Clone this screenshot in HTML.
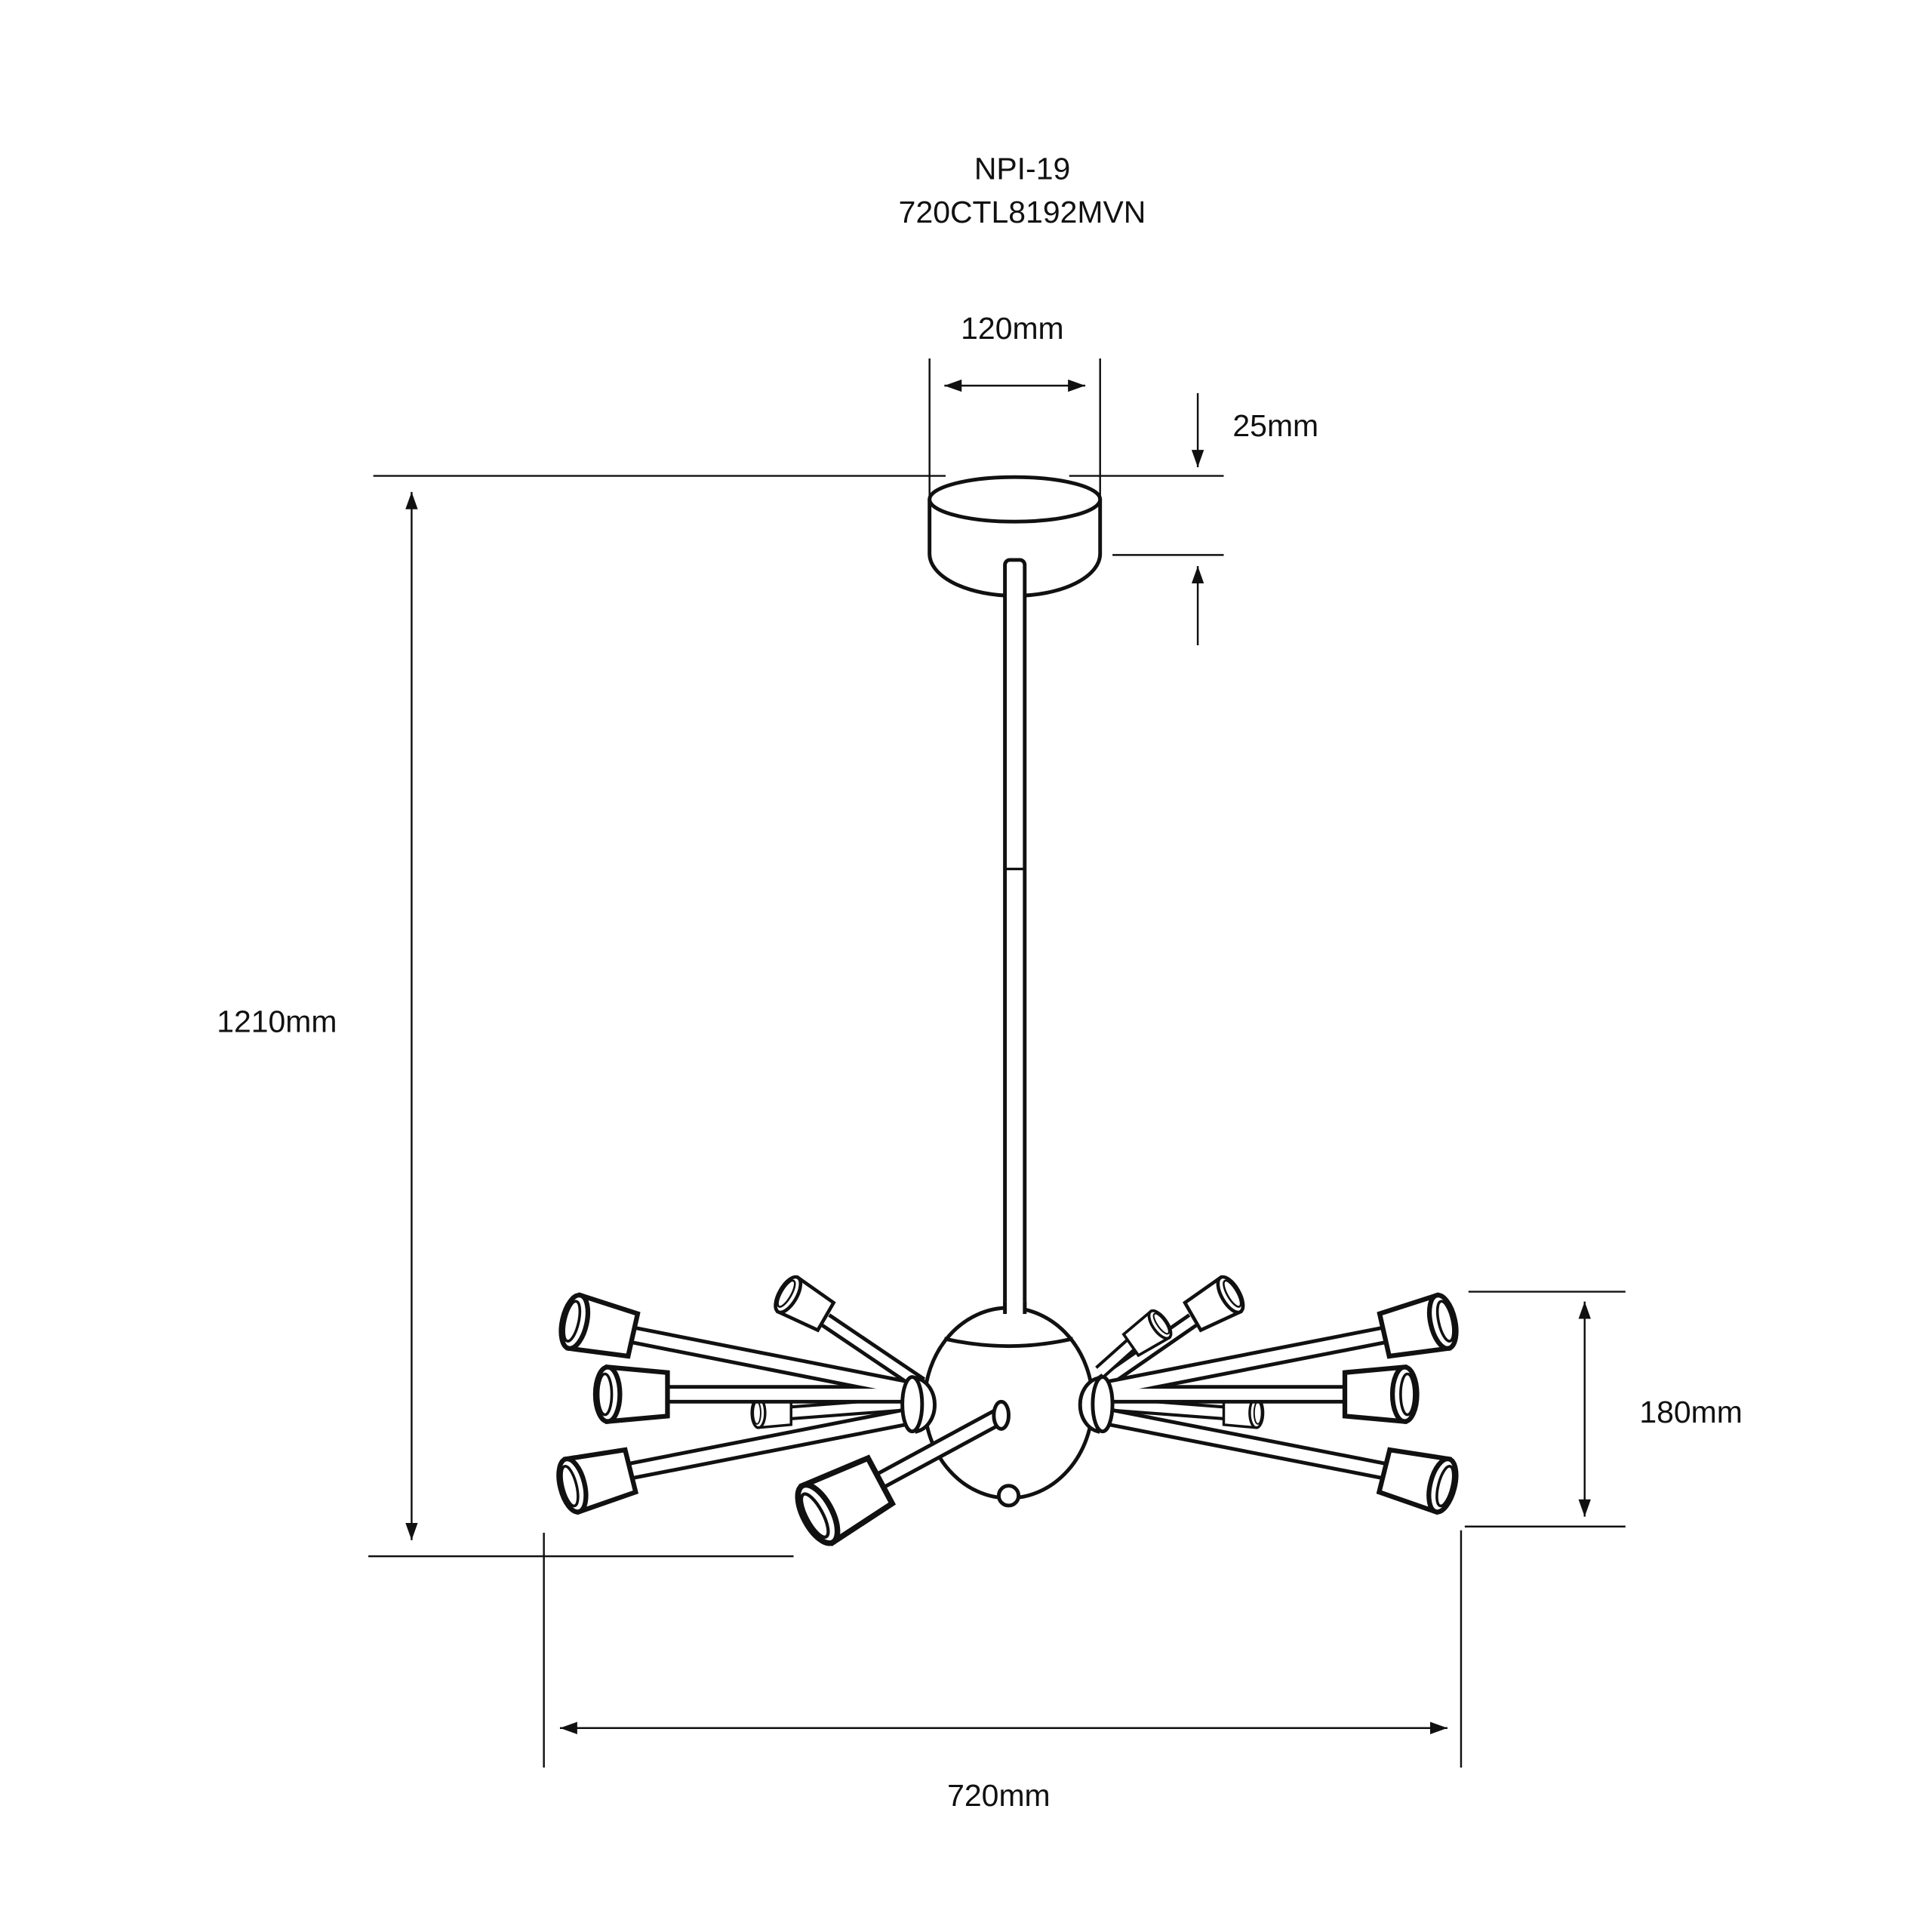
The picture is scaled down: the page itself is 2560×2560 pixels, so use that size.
<!DOCTYPE html>
<html><head><meta charset="utf-8"><style>
html,body{margin:0;padding:0;background:#fff;width:2560px;height:2560px;overflow:hidden}
svg{display:block}
text{font-family:"Liberation Sans",sans-serif;font-size:25px;fill:#111}
</style></head><body>
<svg width="2560" height="2560" viewBox="0 0 1563 1563" xmlns="http://www.w3.org/2000/svg">
<defs>
<marker id="a" viewBox="0 0 10 10" refX="10" refY="5" markerWidth="14" markerHeight="10" orient="auto-start-reverse" markerUnits="userSpaceOnUse" preserveAspectRatio="none"><path d="M0,0 L10,5 L0,10 z" fill="#111"/></marker>
<g id="cup" stroke="#111" stroke-width="3.5" fill="#fff">
<path d="M0,-16 L44,-20 L44,20 L0,16 Z"/>
<ellipse cx="44" cy="0" rx="9" ry="20"/>
<ellipse cx="46" cy="0" rx="5" ry="15" fill="none" stroke-width="2"/>
</g>
</defs>
<rect width="1563" height="1563" fill="#fff"/>
<text x="827" y="145" text-anchor="middle">NPI-19</text>
<text x="827" y="180" text-anchor="middle">720CTL8192MVN</text>

<g stroke="#111" stroke-width="1.5" fill="none">
<line x1="752" y1="290" x2="752" y2="402"/>
<line x1="890" y1="290" x2="890" y2="406"/>
<line x1="764" y1="312" x2="878" y2="312" marker-start="url(#a)" marker-end="url(#a)"/>
<line x1="302" y1="385" x2="765" y2="385"/>
<line x1="865" y1="385" x2="990" y2="385"/>
<line x1="900" y1="449" x2="990" y2="449"/>
<line x1="969" y1="318" x2="969" y2="378" marker-end="url(#a)"/>
<line x1="969" y1="522" x2="969" y2="458" marker-end="url(#a)"/>
<line x1="333" y1="398" x2="333" y2="1246" marker-start="url(#a)" marker-end="url(#a)"/>
<line x1="298" y1="1259" x2="642" y2="1259"/>
<line x1="1188" y1="1045" x2="1315" y2="1045"/>
<line x1="1185" y1="1235" x2="1315" y2="1235"/>
<line x1="1282" y1="1053" x2="1282" y2="1227" marker-start="url(#a)" marker-end="url(#a)"/>
<line x1="440" y1="1240" x2="440" y2="1430"/>
<line x1="1182" y1="1238" x2="1182" y2="1430"/>
<line x1="453" y1="1398" x2="1171" y2="1398" marker-start="url(#a)" marker-end="url(#a)"/>
</g>
<text x="819" y="274" text-anchor="middle">120mm</text>
<text x="1032" y="353" text-anchor="middle">25mm</text>
<text x="224" y="835" text-anchor="middle">1210mm</text>
<text x="1368" y="1151" text-anchor="middle">180mm</text>
<text x="808" y="1461" text-anchor="middle">720mm</text>

<g stroke="#111" stroke-width="3" fill="#fff">
<path d="M752,404 L752,448 A69,34 0 0 0 890,448 L890,404"/>
<ellipse cx="821" cy="404" rx="69" ry="18"/>
<rect x="813" y="453" width="16" height="612" rx="4"/>
<line x1="813" y1="703" x2="829" y2="703" stroke-width="2"/>
</g>

<g stroke-linecap="butt">
<line x1="745" y1="1120" x2="668" y2="1068" stroke="#111" stroke-width="13"/>
<line x1="745" y1="1120" x2="668" y2="1068" stroke="#fff" stroke-width="7"/>
<line x1="890" y1="1120" x2="965" y2="1068" stroke="#111" stroke-width="13"/>
<line x1="890" y1="1120" x2="965" y2="1068" stroke="#fff" stroke-width="7"/>
<line x1="890" y1="1110" x2="918" y2="1085" stroke="#111" stroke-width="12"/>
<line x1="890" y1="1110" x2="918" y2="1085" stroke="#fff" stroke-width="7"/>
<line x1="745" y1="1135" x2="640" y2="1143" stroke="#111" stroke-width="12"/>
<line x1="745" y1="1135" x2="640" y2="1143" stroke="#fff" stroke-width="7"/>
<line x1="885" y1="1135" x2="990" y2="1143" stroke="#111" stroke-width="12"/>
<line x1="885" y1="1135" x2="990" y2="1143" stroke="#fff" stroke-width="7"/>
</g>
<use href="#cup" transform="translate(668,1065) rotate(210) scale(0.8)"/>
<use href="#cup" transform="translate(965,1065) rotate(-30) scale(0.8)"/>
<use href="#cup" transform="translate(915,1088) rotate(-35) scale(0.65)"/>
<use href="#cup" transform="translate(640,1143) rotate(180) scale(0.6)"/>
<use href="#cup" transform="translate(990,1143) rotate(0) scale(0.6)"/>

<g stroke="#111" stroke-width="3" fill="#fff">
<ellipse cx="816" cy="1135" rx="68" ry="77"/>
<path d="M764,1083 Q816,1095 868,1083" fill="none"/>
<circle cx="816" cy="1210" r="8"/>
<rect x="813" y="1053" width="16" height="12" stroke="none"/>
<line x1="813" y1="1053" x2="813" y2="1063"/><line x1="829" y1="1053" x2="829" y2="1063"/>
</g>

<g stroke-linecap="butt">
<g stroke="#111" stroke-width="15">
<line x1="740" y1="1125" x2="512" y2="1080"/>
<line x1="740" y1="1128" x2="540" y2="1128"/>
<line x1="740" y1="1145" x2="510" y2="1190"/>
<line x1="890" y1="1125" x2="1120" y2="1080"/>
<line x1="890" y1="1128" x2="1088" y2="1128"/>
<line x1="890" y1="1145" x2="1120" y2="1190"/>
<line x1="810" y1="1145" x2="712" y2="1198"/>
</g>
<g stroke="#fff" stroke-width="9">
<line x1="740" y1="1125" x2="512" y2="1080"/>
<line x1="740" y1="1128" x2="540" y2="1128"/>
<line x1="740" y1="1145" x2="510" y2="1190"/>
<line x1="890" y1="1125" x2="1120" y2="1080"/>
<line x1="890" y1="1128" x2="1088" y2="1128"/>
<line x1="890" y1="1145" x2="1120" y2="1190"/>
<line x1="810" y1="1145" x2="712" y2="1198"/>
</g>
</g>
<g stroke="#111" stroke-width="3" fill="#fff">
<path d="M742,1115 A18,22 0 0 1 742,1158 Z"/>
<ellipse cx="738" cy="1136" rx="8" ry="22"/>
<path d="M888,1115 A18,22 0 0 0 888,1158 Z"/>
<ellipse cx="892" cy="1136" rx="8" ry="22"/>
<ellipse cx="810" cy="1145" rx="6" ry="11"/>
</g>
<use href="#cup" transform="translate(512,1080) rotate(192.7) scale(1.1)"/>
<use href="#cup" transform="translate(540,1128) rotate(180) scale(1.1)"/>
<use href="#cup" transform="translate(510,1190) rotate(166) scale(1.1)"/>
<use href="#cup" transform="translate(1120,1080) rotate(-12.7) scale(1.1)"/>
<use href="#cup" transform="translate(1088,1128) rotate(0) scale(1.1)"/>
<use href="#cup" transform="translate(1120,1190) rotate(14) scale(1.1)"/>
<use href="#cup" transform="translate(712,1198) rotate(152) scale(1.3)"/>
</svg>
</body></html>
